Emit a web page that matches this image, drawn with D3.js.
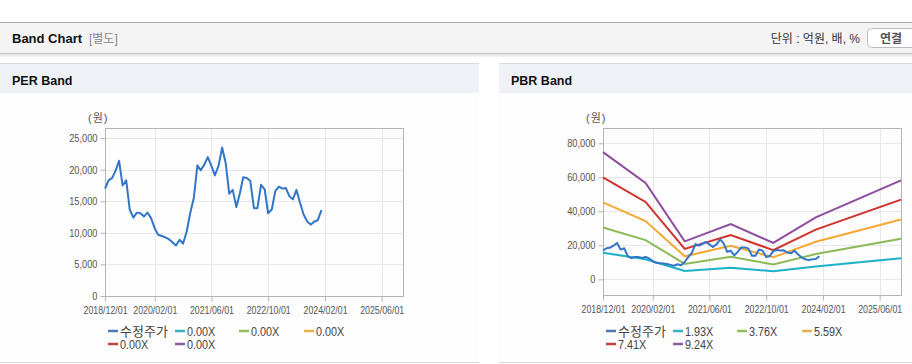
<!DOCTYPE html>
<html>
<head>
<meta charset="utf-8">
<script src="https://cdn.jsdelivr.net/npm/d3@7"></script>
<style>
  html, body { margin: 0; padding: 0; background: #fff; }
  svg { display: block; font-family: "Liberation Sans", "Noto Sans CJK KR", sans-serif; }
</style>
</head>
<body>
<svg id="page" width="912" height="364"></svg>
<script>
// ---- data ----
const priceStart = "2018-12-01";
// 수정주가, monthly closes (won)
const price = [
  17000, 18300, 18700, 19800, 21400, 17500, 18300, 13700, 12400, 13200,
  13100, 12600, 13200, 12300, 10700, 9700, 9500, 9300, 9000, 8500,
  8000, 8900, 8300, 10200, 13100, 15500, 20700, 19900, 20800, 22000,
  20600, 19100, 20600, 23500, 21100, 16200, 16800, 14100, 16300, 18800,
  18700, 18200, 13900, 13900, 17600, 16900, 13100, 13700, 16600, 17300,
  17000, 17100, 15800, 15300, 16800, 14800, 12900, 11800, 11300, 11800,
  12000, 13600
];

// PBR band dates and values
const bandDates = ["2018-12-01", "2019-12-01", "2020-11-01", "2021-12-01", "2022-12-01", "2023-12-01", "2025-12-01"];
const pbr193 = [15630, 11850, 4900, 6790, 4800, 7620, 12400];
const pbr376 = [30460, 23090, 9100, 13240, 8720, 14850, 23900];
const pbr559 = [45280, 34320, 13530, 19680, 12970, 22080, 35220];
const pbr741 = [60020, 45500, 17930, 26080, 17190, 29270, 46900];
const pbr924 = [74840, 56730, 22360, 32520, 21440, 36500, 58210];

const perLegend = ["수정주가", "0.00X", "0.00X", "0.00X", "0.00X", "0.00X"];
const pbrLegend = ["수정주가", "1.93X", "3.76X", "5.59X", "7.41X", "9.24X"];
const seriesColors = ["#3276c8", "#1cb2c6", "#8dba55", "#f5a834", "#d2302b", "#8e4c9e"];
const legendColors = ["#4a7bb9", "#3cb0bd", "#96bc62", "#e9b04e", "#c0433f", "#8a5e9e"];

const xTickDates = ["2018-12-01", "2020-02-01", "2021-06-01", "2022-10-01", "2024-02-01", "2025-06-01"];
const perTicks = [0, 5000, 10000, 15000, 20000, 25000];
const pbrTicks = [0, 20000, 40000, 60000, 80000];

const parse = d3.timeParse("%Y-%m-%d");
const fmt = d3.timeFormat("%Y/%m/%d");
const priceDates = d3.timeMonth.range(parse(priceStart), d3.timeMonth.offset(parse(priceStart), price.length));
const priceData = price.map((v, i) => ({ date: priceDates[i], value: v }));
const toBand = arr => arr.map((v, i) => ({ date: parse(bandDates[i]), value: v }));

// squeeze text horizontally (reference uses a narrow font)
function squeeze(sel, k) {
  sel.each(function () {
    const w = this.getComputedTextLength();
    d3.select(this).attr("textLength", w * k).attr("lengthAdjust", "spacingAndGlyphs");
  });
}

// ---- page frame ----
const svg = d3.select("#page");
const defs = svg.append("defs");
const sh = defs.append("linearGradient").attr("id", "shadow").attr("x1", 0).attr("x2", 0).attr("y1", 0).attr("y2", 1);
sh.append("stop").attr("offset", 0).attr("stop-color", "#000").attr("stop-opacity", 0.12);
sh.append("stop").attr("offset", 1).attr("stop-color", "#000").attr("stop-opacity", 0);

svg.append("rect").attr("x", 0).attr("y", 22).attr("width", 912).attr("height", 1).attr("fill", "#aaa");
svg.append("rect").attr("x", 0).attr("y", 23).attr("width", 912).attr("height", 30).attr("fill", "#f4f4f4");
svg.append("rect").attr("x", 0).attr("y", 53).attr("width", 912).attr("height", 1).attr("fill", "#c4c4c4");
svg.append("rect").attr("x", 0).attr("y", 54).attr("width", 912).attr("height", 4).attr("fill", "url(#shadow)");

svg.append("text").attr("x", 12).attr("y", 43).attr("font-size", 13).attr("font-weight", "bold")
  .attr("fill", "#111").text("Band Chart");
svg.append("text").attr("x", 89).attr("y", 43).attr("font-size", 12).attr("fill", "#888").text("[별도]");
svg.append("text").attr("x", 860).attr("y", 43).attr("font-size", 12).attr("fill", "#333")
  .attr("text-anchor", "end").text("단위 : 억원, 배, %");
svg.append("rect").attr("x", 867.5).attr("y", 28.5).attr("width", 60).attr("height", 19).attr("rx", 4)
  .attr("fill", "#fff").attr("stroke", "#bbb");
svg.append("text").attr("x", 891).attr("y", 43).attr("font-size", 12).attr("font-weight", "bold")
  .attr("fill", "#555").attr("text-anchor", "middle").text("연결");

function panel(x0, w, title) {
  const g = svg.append("g");
  g.append("rect").attr("x", x0).attr("y", 64).attr("width", w).attr("height", 298).attr("fill", "#fdfdfd");
  g.append("rect").attr("x", x0).attr("y", 64).attr("width", w).attr("height", 29).attr("fill", "#eef2f7");
  g.append("rect").attr("x", x0).attr("y", 63).attr("width", w).attr("height", 1).attr("fill", "#d8d8d8");
  g.append("rect").attr("x", x0).attr("y", 362).attr("width", w).attr("height", 1).attr("fill", "#d8d8d8");
  g.append("text").attr("x", x0 + 12).attr("y", 85).attr("font-size", 12.5).attr("font-weight", "bold")
    .attr("fill", "#111").text(title);
}
panel(0, 479, "PER Band");
panel(499, 413, "PBR Band");

// ---- chart ----
function drawChart({ left, right, top, bottom, yDomain, yTicks, bands, legend }) {
  const g = svg.append("g");
  const x = d3.scaleTime()
    .domain([parse("2018-12-01"), parse("2025-12-01")])
    .range([left, right]);
  const y = d3.scaleLinear().domain(yDomain).range([bottom, top]);

  // grid
  g.append("g").selectAll("line").data(yTicks).join("line")
    .attr("x1", left).attr("x2", right)
    .attr("y1", d => Math.round(y(d)) + 0.5).attr("y2", d => Math.round(y(d)) + 0.5)
    .attr("stroke", "#e8e8e8");
  g.append("g").selectAll("line").data(xTickDates.map(parse)).join("line")
    .attr("x1", d => Math.round(x(d)) + 0.5).attr("x2", d => Math.round(x(d)) + 0.5)
    .attr("y1", top).attr("y2", bottom)
    .attr("stroke", "#e8e8e8");

  // frame
  g.append("rect").attr("x", left + 0.5).attr("y", top + 0.5)
    .attr("width", right - left).attr("height", bottom - top)
    .attr("fill", "none").attr("stroke", "#b4b4b4");

  // axes
  const xAxis = d3.axisBottom(x).tickValues(xTickDates.map(parse)).tickFormat(fmt).tickSize(5).tickSizeOuter(0);
  const yAxis = d3.axisLeft(y).tickValues(yTicks).tickFormat(d3.format(",")).tickSize(5).tickSizeOuter(0);
  const gx = g.append("g").attr("transform", `translate(0,${bottom + 0.5})`).call(xAxis);
  const gy = g.append("g").attr("transform", `translate(${left + 0.5},0)`).call(yAxis);
  [gx, gy].forEach(a => {
    a.select(".domain").remove();
    a.selectAll("line").attr("stroke", "#b4b4b4");
    a.selectAll("text").attr("fill", "#555").attr("font-size", 11)
      .attr("font-family", "'Liberation Sans', sans-serif");
  });
  gx.selectAll("text").attr("dy", "1em").attr("y", 6);
  gy.selectAll("text").attr("x", -8);
  squeeze(gx.selectAll("text"), 0.8);
  squeeze(gy.selectAll("text"), 0.84);

  g.append("text").attr("x", left - 17).attr("y", 122).attr("font-size", 11)
    .attr("fill", "#555").attr("letter-spacing", 1).text("(원)");

  // lines
  const line = d3.line().x(d => x(d.date)).y(d => y(d.value));
  bands.forEach((b, i) => {
    if (!b) return;
    g.append("path").datum(toBand(b)).attr("d", line)
      .attr("fill", "none").attr("stroke", seriesColors[i + 1]).attr("stroke-width", 2);
  });
  g.append("path").datum(priceData).attr("d", line)
    .attr("fill", "none").attr("stroke", seriesColors[0]).attr("stroke-width", 2)
    .attr("stroke-linejoin", "round");

  // legend
  const cols = [0, 67, 131, 196];
  const lg = g.append("g");
  legend.forEach((name, i) => {
    const lx = left + 3 + cols[i % 4];
    const ly = 331 + Math.floor(i / 4) * 13;
    lg.append("line").attr("x1", lx).attr("x2", lx + 10).attr("y1", ly).attr("y2", ly)
      .attr("stroke", legendColors[i]).attr("stroke-width", 2.5);
    const t = lg.append("text").attr("x", lx + 12).attr("y", ly + 4.5)
      .attr("font-size", i === 0 ? 13 : 12).attr("fill", "#444").text(name);
    if (i > 0) squeeze(t, 0.9);
  });
}

drawChart({
  left: 105, right: 403, top: 128, bottom: 296,
  yDomain: [0, 26600], yTicks: perTicks,
  bands: [null, null, null, null, null],
  legend: perLegend
});

drawChart({
  left: 603, right: 901, top: 128, bottom: 295,
  yDomain: [-9200, 89000], yTicks: pbrTicks,
  bands: [pbr193, pbr376, pbr559, pbr741, pbr924],
  legend: pbrLegend
});
</script>
</body>
</html>
